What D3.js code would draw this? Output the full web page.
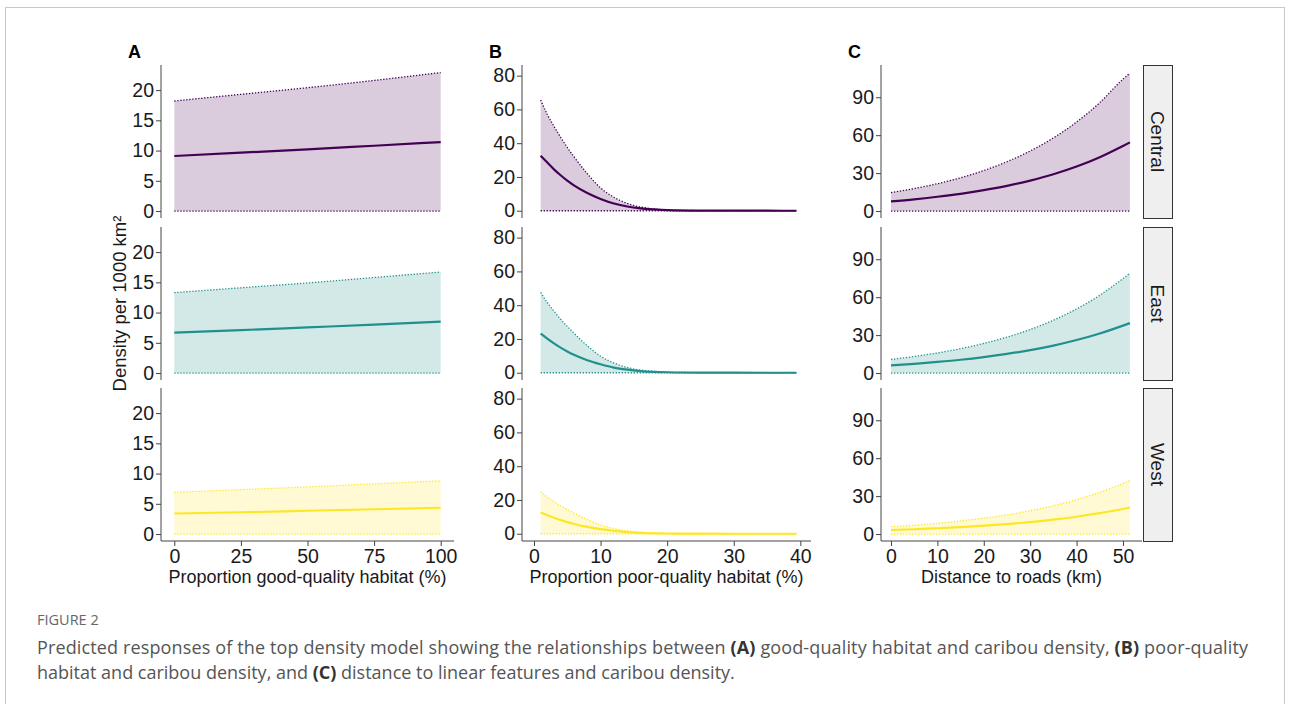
<!DOCTYPE html>
<html>
<head>
<meta charset="utf-8">
<script src="https://cdn.jsdelivr.net/npm/d3@7"></script>
<style>
  body { margin: 0; background: #fff; }
  svg text { font-family: "Liberation Sans", Arial, sans-serif; }
</style>
</head>
<body>
<script>
const width = 1290;
const height = 704;

const regions = ['Central', 'East', 'West'];
const colors = ['#440154', '#21908C', '#FDE725'];

// panel A: proportion good-quality habitat
const goodX = [0, 25, 50, 75, 100];
const goodMean = [
  [9.1, 9.65, 10.2, 10.8, 11.4],
  [6.7, 7.1, 7.55, 8.0, 8.5],
  [3.4, 3.6, 3.85, 4.1, 4.35]
];
const goodUpper = [
  [18.2, 19.3, 20.4, 21.6, 22.9],
  [13.3, 14.1, 14.9, 15.8, 16.7],
  [6.9, 7.35, 7.8, 8.3, 8.8]
];
const goodTicks = [0, 25, 50, 75, 100];
const goodYTicks = [0, 5, 10, 15, 20];

// panel B: proportion poor-quality habitat
const poorX = [1, 2, 3, 4, 5, 6, 8, 10, 12, 14, 16, 18, 20, 25, 30, 35, 39.4];
const poorMean = [
  [32.6, 28.5, 24.5, 21, 17.8, 15, 10.5, 7, 4.3, 2.5, 1.4, 0.8, 0.4, 0.1, 0.03, 0.01, 0],
  [23.2, 20.2, 17.4, 14.9, 12.6, 10.6, 7.4, 5, 3, 1.8, 1, 0.55, 0.3, 0.07, 0.02, 0, 0],
  [12.6, 11, 9.5, 8.1, 6.9, 5.8, 4.1, 2.7, 1.7, 1, 0.55, 0.3, 0.15, 0.04, 0, 0, 0]
];
const poorUpper = [
  [65.6, 57, 50, 43.5, 37.5, 32, 22, 13.5, 8, 4.3, 2.2, 1.1, 0.5, 0.1, 0.03, 0.01, 0],
  [47.6, 41.5, 36.5, 31.7, 27.4, 23.4, 16, 9.8, 5.8, 3.1, 1.6, 0.8, 0.35, 0.07, 0.02, 0, 0],
  [24.9, 21.7, 19, 16.5, 14.3, 12.2, 8.4, 5.2, 3.1, 1.7, 0.85, 0.4, 0.2, 0.04, 0, 0, 0]
];
const poorTicks = [0, 10, 20, 30, 40];
const poorYTicks = [0, 20, 40, 60, 80];

// panel C: distance to roads (km)
const roadX = [0, 5, 10, 15, 20, 25, 30, 35, 40, 45, 50, 51.5];
const roadMean = [
  [7.7, 9.3, 11.3, 13.6, 16.5, 19.9, 24.1, 29.1, 35.2, 42.6, 51.5, 54.3],
  [6.1, 7.3, 8.8, 10.5, 12.6, 15.1, 18.1, 21.7, 26.1, 31.3, 37.5, 39.5],
  [3.2, 3.8, 4.6, 5.5, 6.6, 7.9, 9.5, 11.4, 13.7, 16.5, 19.8, 21]
];
const roadUpper = [
  [14.6, 17.8, 21.6, 26.3, 32, 39, 47.5, 57.8, 70.4, 85.7, 104.3, 109],
  [10.8, 13.1, 15.9, 19.3, 23.4, 28.4, 34.4, 41.8, 50.7, 61.5, 74.7, 79],
  [5.8, 7.0, 8.5, 10.4, 12.6, 15.2, 18.5, 22.4, 27.2, 33.0, 40.1, 42.4]
];
const roadTicks = [0, 10, 20, 30, 40, 50];
const roadYTicks = [0, 30, 60, 90];

const rowTops = [65, 227, 388];
const rowH = 153;

const columns = [
  { letter: 'A', xs: goodX, mean: goodMean, upper: goodUpper, xTicks: goodTicks, yTicks: goodYTicks,
    xDom: [-5, 105], yDom: [-1.15, 24.15], px: [161, 454], title: 'Proportion good-quality habitat (%)' },
  { letter: 'B', xs: poorX, mean: poorMean, upper: poorUpper, xTicks: poorTicks, yTicks: poorYTicks,
    xDom: [-1.8, 41.6], yDom: [-4.3, 86.3], px: [522, 811], title: 'Proportion poor-quality habitat (%)' },
  { letter: 'C', xs: roadX, mean: roadMean, upper: roadUpper, xTicks: roadTicks, yTicks: roadYTicks,
    xDom: [-2.15, 54.1], yDom: [-5.5, 115.5], px: [881, 1142], title: 'Distance to roads (km)' }
];

const svg = d3.select('body').append('svg')
  .attr('width', width)
  .attr('height', height);

// page frame
svg.append('rect')
  .attr('x', 5.5).attr('y', 7.5)
  .attr('width', 1279).attr('height', 720)
  .attr('fill', 'none')
  .attr('stroke', '#c8c8c8');

columns.forEach((col) => {
  const x = d3.scaleLinear().domain(col.xDom).range(col.px);

  svg.append('text')
    .attr('x', col.px[0] - 33)
    .attr('y', 58)
    .attr('font-size', 18)
    .attr('font-weight', 'bold')
    .text(col.letter);

  regions.forEach((region, r) => {
    const top = rowTops[r];
    const y = d3.scaleLinear().domain(col.yDom).range([top + rowH, top]);
    const pts = col.xs.map((v, i) => ({ x: v, m: col.mean[r][i], u: col.upper[r][i] }));
    const g = svg.append('g');

    const area = d3.area()
      .x(d => x(d.x))
      .y0(y(0))
      .y1(d => y(d.u))
      .curve(d3.curveMonotoneX);

    g.append('path')
      .datum(pts)
      .attr('d', area)
      .attr('fill', colors[r])
      .attr('fill-opacity', 0.2);

    const upperLine = d3.line().x(d => x(d.x)).y(d => y(d.u)).curve(d3.curveMonotoneX);
    const lowerLine = d3.line().x(d => x(d.x)).y(() => y(0));
    const meanLine = d3.line().x(d => x(d.x)).y(d => y(d.m)).curve(d3.curveMonotoneX);

    [upperLine, lowerLine].forEach((ln) => {
      g.append('path')
        .datum(pts)
        .attr('d', ln)
        .attr('fill', 'none')
        .attr('stroke', colors[r])
        .attr('stroke-width', 1.3)
        .attr('stroke-dasharray', '1.3 1.7');
    });

    g.append('path')
      .datum(pts)
      .attr('d', meanLine)
      .attr('fill', 'none')
      .attr('stroke', colors[r])
      .attr('stroke-width', 2.2);

    // left axis
    const yAxis = g.append('g')
      .attr('transform', `translate(${col.px[0]},0)`)
      .call(d3.axisLeft(y).tickValues(col.yTicks).tickSize(5).tickPadding(2));
    yAxis.select('.domain').attr('stroke', '#444').attr('d', `M0,${top}V${top + rowH}`);
    yAxis.selectAll('.tick line').attr('stroke', '#444');
    yAxis.selectAll('.tick text')
      .attr('font-size', 19.5)
      .attr('fill', '#1a1a1a')
      .attr('font-family', '"Liberation Sans", Arial, sans-serif');

    if (col.letter === 'C') {
      const sg = svg.append('g');
      sg.append('rect')
        .attr('x', 1143.5).attr('y', top + 0.5)
        .attr('width', 29).attr('height', rowH)
        .attr('fill', '#efefef')
        .attr('stroke', '#333');
      sg.append('text')
        .attr('transform', `translate(1151,${top + rowH / 2}) rotate(90)`)
        .attr('text-anchor', 'middle')
        .attr('font-size', 19)
        .attr('fill', '#1a1a1a')
        .text(region);
    }
  });

  // bottom axis
  const bottom = rowTops[2] + rowH;
  const xAxis = svg.append('g')
    .attr('transform', `translate(0,${bottom})`)
    .call(d3.axisBottom(x).tickValues(col.xTicks).tickSize(5).tickPadding(3));
  xAxis.select('.domain').attr('stroke', '#444').attr('d', `M${col.px[0]},0H${col.px[1]}`);
  xAxis.selectAll('.tick line').attr('stroke', '#444');
  xAxis.selectAll('.tick text')
    .attr('font-size', 19.5)
    .attr('fill', '#1a1a1a')
    .attr('font-family', '"Liberation Sans", Arial, sans-serif');

  svg.append('text')
    .attr('x', (col.px[0] + col.px[1]) / 2)
    .attr('y', 583)
    .attr('text-anchor', 'middle')
    .attr('font-size', 18)
    .attr('fill', '#1a1a1a')
    .text(col.title);
});

// y axis title
svg.append('text')
  .attr('transform', `translate(126,${rowTops[1] + rowH / 2}) rotate(-90)`)
  .attr('text-anchor', 'middle')
  .attr('font-size', 18.5)
  .attr('fill', '#1a1a1a')
  .text('Density per 1000 km²');

// caption
const cap = svg.append('g');
cap.append('text')
  .attr('x', 37).attr('y', 625)
  .attr('font-size', 14.5)
  .attr('fill', '#666')
  .style('font-family', '"Open Sans", sans-serif')
  .text('FIGURE 2');

const line1 = cap.append('text')
  .attr('x', 37).attr('y', 654)
  .attr('font-size', 18)
  .attr('fill', '#555')
  .attr('textLength', 1211)
  .style('font-family', '"Open Sans", sans-serif');
line1.append('tspan').text('Predicted responses of the top density model showing the relationships between ');
line1.append('tspan').attr('font-weight', 'bold').attr('fill', '#333').text('(A)');
line1.append('tspan').text(' good-quality habitat and caribou density, ');
line1.append('tspan').attr('font-weight', 'bold').attr('fill', '#333').text('(B)');
line1.append('tspan').text(' poor-quality');

const line2 = cap.append('text')
  .attr('x', 37).attr('y', 679)
  .attr('font-size', 18)
  .attr('fill', '#555')
  .style('font-family', '"Open Sans", sans-serif');
line2.append('tspan').text('habitat and caribou density, and ');
line2.append('tspan').attr('font-weight', 'bold').attr('fill', '#333').text('(C)');
line2.append('tspan').text(' distance to linear features and caribou density.');
</script>
</body>
</html>
